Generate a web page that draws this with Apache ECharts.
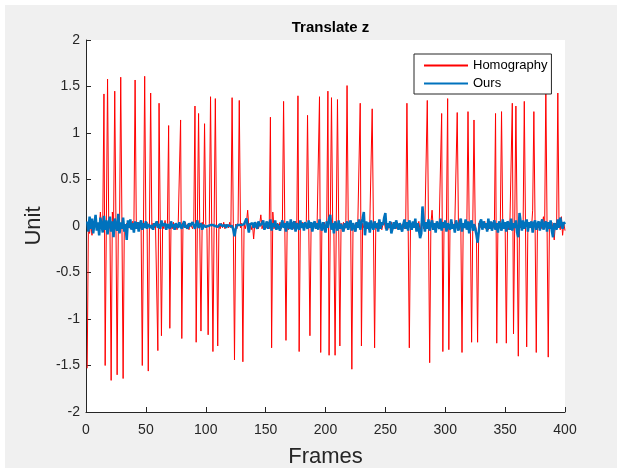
<!DOCTYPE html>
<html>
<head>
<meta charset="utf-8">
<script src="https://cdn.jsdelivr.net/npm/echarts@6/dist/echarts.min.js"></script>
<style>
html,body{margin:0;padding:0;background:#fff;}
#bg{position:absolute;left:5px;top:5px;width:612px;height:463px;background:#f0f0f0;}
#chart{position:absolute;left:0;top:0;width:617px;height:475px;}
</style>
</head>
<body>
<div id="bg"></div>
<div id="chart"></div>
<script>
// ---- data ----
const titleText = 'Translate z';
const xName = 'Frames';
const yName = 'Unit';
const seriesNames = ['Homography', 'Ours'];
const xTicks = [0, 50, 100, 150, 200, 250, 300, 350, 400];
const yTicks = [-2, -1.5, -1, -0.5, 0, 0.5, 1, 1.5, 2];

// Homography values, frames 1..400
const homography = [
-1.53,0.02,-0.08,0.03,-0.10,0.04,-0.02,0.05,-0.03,0.02,-0.04,0.15,-0.02,0.03,1.42,-1.50,0.04,1.58,-0.03,0.02,
-1.66,0.15,-0.02,1.45,0.03,-1.60,0.02,-0.03,1.60,0.04,-1.64,0.02,-0.04,0.03,-0.02,0.04,-0.03,0.02,0.05,-0.02,
1.57,0.03,-0.02,0.04,-0.03,0.02,-1.50,0.03,1.61,-0.02,0.04,-1.56,0.02,1.43,-0.03,0.03,-0.02,0.04,0.02,-1.34,
1.32,0.03,-1.18,0.02,-0.03,0.06,-0.02,0.03,1.08,-1.10,0.02,-0.03,0.04,-0.02,0.03,-0.04,0.02,0.03,1.14,-1.21,
0.03,-0.02,0.04,-0.03,0.02,-0.04,0.03,0.02,-0.03,0.04,1.29,-1.25,0.03,1.21,-0.02,-1.13,0.04,-0.03,1.10,0.02,
-0.03,-1.17,0.03,1.39,-0.02,-1.35,0.04,1.37,-0.03,-1.29,0.02,-0.03,0.03,-0.02,0.04,-0.03,0.02,0.03,-0.02,0.04,
-0.02,1.38,0.03,-1.44,0.02,-0.03,0.04,1.35,-0.02,0.03,-1.46,0.02,-0.03,0.04,0.17,-0.02,0.03,-0.04,0.02,-0.14,
0.03,-0.02,0.04,-0.03,0.02,0.12,-0.03,0.02,-0.04,0.03,-0.02,0.04,-0.03,1.17,-1.31,0.15,-0.03,0.02,-0.04,0.03,
-0.02,0.04,-0.03,0.02,1.34,0.03,-1.23,0.02,-0.04,0.03,-0.02,0.04,-0.03,0.02,0.05,-0.03,1.40,-1.35,0.03,-0.02,
0.04,-0.03,0.02,0.05,1.19,0.02,-1.18,0.03,-0.04,0.02,0.04,-0.03,0.02,0.03,1.39,-1.36,0.02,-0.03,0.04,-0.02,
0.03,1.45,-1.39,0.04,1.38,0.02,-0.03,-1.39,0.03,1.36,0.02,-1.29,0.03,-0.02,0.04,-0.03,0.02,1.51,0.03,-0.02,
0.04,-1.54,0.02,-0.03,0.03,-0.02,0.04,0.02,1.32,-1.29,0.03,-0.02,0.04,-0.03,0.02,-0.04,0.03,0.02,1.26,0.03,
-1.31,0.02,-0.03,0.04,-0.02,0.03,-0.04,0.02,0.05,-0.03,0.02,-0.04,0.03,-0.02,0.04,-0.05,0.02,0.03,-0.03,0.04,
-0.02,0.03,-0.04,0.02,0.04,-0.03,0.02,1.32,0.03,-1.31,0.02,-0.03,0.04,-0.02,0.03,-0.04,0.02,0.05,-0.06,0.03,
0.06,-0.03,0.02,0.04,1.35,0.03,-1.47,0.02,0.17,-0.03,0.02,-0.04,0.03,-0.02,0.04,0.02,1.21,-1.35,0.03,-0.02,
0.04,1.37,-1.33,0.02,-0.03,0.04,-0.02,0.03,0.02,1.22,0.03,-0.04,0.02,-1.36,0.03,-0.02,0.04,-0.03,1.23,0.02,
-0.03,-1.25,0.03,1.14,0.02,-0.04,-1.25,0.03,-0.02,0.04,-0.03,0.02,0.05,-0.03,0.02,-0.04,0.03,-0.02,0.04,0.02,
-0.03,1.21,-1.26,0.03,-0.02,0.04,1.23,0.02,-0.03,0.03,-1.26,0.02,-0.04,0.03,0.02,1.32,-1.16,0.03,1.29,0.02,
-1.40,0.03,-0.02,0.04,-0.03,1.34,0.02,-1.30,0.03,-0.02,0.04,-0.03,0.17,1.23,0.02,-1.36,0.03,-0.02,0.04,-0.03,
0.02,0.10,-0.03,1.51,0.02,-1.41,0.03,-0.02,0.04,-0.03,-0.15,0.03,-0.02,1.43,0.03,-0.04,0.10,-0.10,0.03,-0.05
];

// Ours values, frames 1..400
const ours = [
0.05,-0.06,0.10,-0.03,0.08,-0.08,0.02,0.12,-0.05,0.04,-0.10,0.09,0.01,-0.07,0.11,-0.04,0.06,-0.09,0.03,0.10,
-0.06,0.05,-0.12,0.08,0.00,-0.05,0.13,-0.08,0.04,-0.03,0.09,-0.06,0.02,-0.15,0.06,-0.02,0.07,-0.04,0.03,-0.07,
0.05,-0.03,0.04,-0.06,0.02,0.06,-0.04,0.03,-0.02,0.05,-0.03,0.02,0.04,-0.02,0.01,-0.04,0.03,0.00,0.05,-0.02,
0.02,-0.03,0.06,0.00,-0.02,0.03,-0.04,0.02,0.01,-0.03,0.05,-0.01,0.02,-0.04,0.03,0.01,-0.02,0.04,0.00,-0.03,
0.02,0.05,-0.02,0.01,-0.03,0.03,0.00,-0.02,0.04,0.01,-0.03,0.02,0.06,-0.02,0.00,0.03,-0.04,0.01,0.02,-0.01,
0.01,0.00,0.02,0.01,-0.01,0.01,0.02,0.00,0.01,-0.01,0.01,0.02,0.01,0.00,0.01,0.01,-0.02,0.01,0.02,0.00,
0.01,0.00,-0.04,-0.11,-0.03,0.01,0.02,0.01,0.00,0.01,0.01,0.02,0.03,0.08,0.01,-0.07,0.02,0.00,0.03,-0.02,
0.04,0.01,-0.03,0.05,0.00,-0.02,0.03,0.06,-0.04,0.01,0.05,-0.03,0.02,0.07,-0.05,0.03,-0.01,0.06,-0.04,0.02,
0.04,-0.05,0.01,0.06,-0.02,0.03,-0.06,0.05,0.00,-0.03,0.07,-0.04,0.02,0.05,-0.06,0.03,0.01,-0.04,0.06,-0.02,
0.03,-0.05,0.04,0.01,-0.03,0.06,-0.02,0.04,-0.06,0.02,0.05,-0.03,0.03,-0.04,0.07,0.00,-0.05,0.04,0.02,-0.07,
0.05,-0.02,0.08,0.12,-0.04,0.03,-0.08,0.05,0.01,-0.05,0.06,-0.03,0.02,0.04,-0.06,0.03,-0.02,0.05,-0.04,0.02,
0.06,-0.05,0.03,0.01,-0.06,0.04,-0.02,0.07,-0.04,0.03,0.08,0.15,-0.10,0.05,-0.03,0.04,-0.07,0.06,0.00,-0.04,
0.05,-0.02,0.03,-0.06,0.07,-0.03,0.04,0.01,0.09,0.14,-0.05,0.03,-0.02,0.05,-0.08,-0.10,0.04,-0.03,0.06,0.01,
-0.04,0.03,0.05,-0.06,0.02,0.07,-0.03,0.04,-0.05,0.06,0.01,-0.04,0.05,-0.02,0.08,-0.06,0.03,-0.04,-0.13,-0.08,
0.21,0.05,-0.06,0.04,-0.03,0.07,-0.05,0.02,0.06,-0.04,0.03,-0.07,0.05,0.01,-0.03,0.08,-0.05,0.04,-0.02,0.06,
-0.06,0.03,0.05,-0.04,0.07,-0.03,0.02,-0.07,0.06,0.01,-0.05,0.04,0.08,-0.06,0.03,-0.02,0.07,-0.04,0.05,-0.08,
0.03,0.06,-0.05,0.02,-0.03,-0.09,-0.18,-0.06,0.04,0.07,-0.04,0.05,-0.02,0.03,-0.06,0.08,-0.03,0.05,-0.05,0.02,
0.06,-0.04,0.03,-0.07,0.05,0.01,-0.05,0.07,-0.03,0.04,-0.06,0.05,0.02,-0.04,0.08,-0.05,0.03,-0.02,0.06,-0.07,
-0.12,0.14,0.04,-0.05,0.06,-0.03,0.02,0.07,-0.06,0.04,-0.02,0.05,-0.07,0.03,0.06,-0.04,0.02,0.05,-0.05,0.03,
0.07,-0.04,0.02,0.05,-0.06,0.04,-0.03,0.06,-0.05,-0.12,0.03,0.05,-0.04,0.07,-0.02,0.09,0.03,-0.03,0.04,0.02
];

// ---- chart ----
const toPairs = arr => arr.map((v, i) => [i + 1, v]);
const axisColor = '#262626';
const font = 'Liberation Sans, Arial, Helvetica, sans-serif';

const chart = echarts.init(document.getElementById('chart'), null, {renderer: 'canvas'});
chart.setOption({
  animation: false,
  backgroundColor: 'transparent',
  title: {
    text: titleText,
    left: 325.5,
    textAlign: 'center',
    top: 15,
    textStyle: {fontFamily: font, fontSize: 15, fontWeight: 'bold', color: '#000'}
  },
  legend: {
    orient: 'vertical',
    left: 414,
    top: 54,
    width: 137,
    data: seriesNames,
    backgroundColor: '#fff',
    borderColor: axisColor,
    borderWidth: 1,
    borderRadius: 0,
    padding: [5, 4, 4, 9],
    itemWidth: 44,
    itemHeight: 14,
    itemGap: 5,
    itemStyle: {opacity: 0},
    textStyle: {fontFamily: font, fontSize: 13, color: '#000'}
  },
  grid: {
    left: 86, right: 52, top: 40, bottom: 63,
    show: true, backgroundColor: '#fff', borderWidth: 0
  },
  xAxis: {
    type: 'value',
    min: xTicks[0], max: xTicks[xTicks.length - 1],
    interval: xTicks[1] - xTicks[0],
    name: xName,
    nameLocation: 'middle',
    nameGap: 34,
    nameTextStyle: {fontFamily: font, fontSize: 22, color: axisColor},
    axisLine: {show: true, onZero: false, lineStyle: {color: axisColor, width: 1}},
    axisTick: {show: true, inside: true, length: 5, lineStyle: {color: axisColor}},
    axisLabel: {fontFamily: font, fontSize: 14, color: axisColor, margin: 11},
    splitLine: {show: false}
  },
  yAxis: {
    type: 'value',
    min: yTicks[0], max: yTicks[yTicks.length - 1],
    interval: yTicks[1] - yTicks[0],
    name: yName,
    nameLocation: 'middle',
    nameGap: 34,
    nameTextStyle: {fontFamily: font, fontSize: 22, color: axisColor},
    axisLine: {show: true, onZero: false, lineStyle: {color: axisColor, width: 1}},
    axisTick: {show: true, inside: true, length: 5, lineStyle: {color: axisColor}},
    axisLabel: {fontFamily: font, fontSize: 14, color: axisColor, margin: 6},
    splitLine: {show: false}
  },
  series: [
    {
      name: seriesNames[0],
      type: 'line',
      data: toPairs(homography),
      showSymbol: false,
      symbol: 'none',
      lineStyle: {color: '#ff0000', width: 1},
      itemStyle: {color: '#ff0000'},
      z: 2
    },
    {
      name: seriesNames[1],
      type: 'line',
      data: toPairs(ours),
      showSymbol: false,
      symbol: 'none',
      lineStyle: {color: '#0072bd', width: 2.5},
      itemStyle: {color: '#0072bd'},
      z: 3
    }
  ]
});
</script>
</body>
</html>
